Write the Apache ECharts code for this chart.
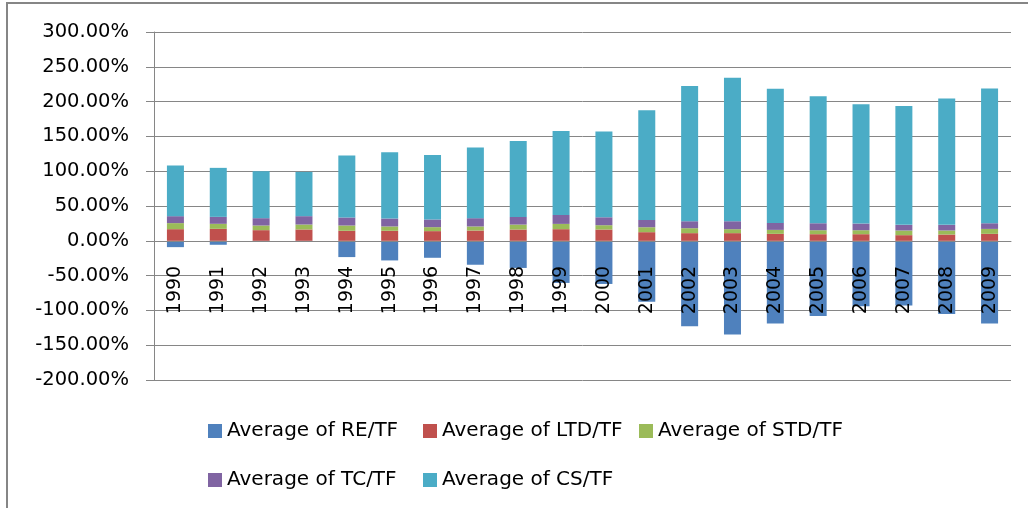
<!DOCTYPE html>
<html lang="en">
  <head>
    <meta charset="utf-8" />
    <title>Capital structure ratios</title>
    <script src="https://cdn.jsdelivr.net/npm/echarts@6/dist/echarts.min.js"></script>
    <style>
      html,
      body {
        margin: 0;
        padding: 0;
        background: #fff;
      }
      #chart1 {
        width: 1028px;
        height: 508px;
      }
    </style>
  </head>
  <body>
    <div id="chart1"></div>
    <script type="text/javascript">
      // years on the x axis
      var years = [
        "1990", "1991", "1992", "1993", "1994", "1995", "1996", "1997", "1998", "1999",
        "2000", "2001", "2002", "2003", "2004", "2005", "2006", "2007", "2008", "2009",
      ];
      // segment values, in percent
      var reTF = [-9.1, -5.7, -0.3, -0.2, -23.4, -28.2, -24.4, -34.4, -39, -60.5,
        -62, -87.6, -122.9, -134.8, -119, -108, -94, -93, -105, -119];
      var ltdTF = [16.7, 17.2, 15.3, 16.3, 14.4, 14.4, 13.9, 14.8, 16.2, 16.7,
        16.2, 12.4, 11, 11, 10, 9.5, 9.5, 8.1, 9, 10];
      var stdTF = [8.7, 7.2, 6.7, 7.1, 7.6, 6.2, 5.7, 5.8, 7.1, 7.6,
        6.2, 7.1, 7.1, 5.7, 5.7, 5.7, 5.7, 6.7, 5.8, 7.1];
      var tcTF = [10, 10, 10.5, 12, 11.5, 11.4, 11, 11.9, 11, 12.8,
        11.4, 10.5, 10, 11.4, 10, 10, 9.6, 8.1, 8.1, 8.1];
      var csTF = [72.7, 70.4, 67.5, 63.6, 89, 95.3, 92.8, 101.5, 109, 120.5,
        123.3, 157.6, 194.3, 206.2, 192.9, 182.4, 171.4, 170.9, 181.4, 193.8];
      var yTicks = { min: -200, max: 300, step: 50 };

      var names = [
        "Average of RE/TF",
        "Average of LTD/TF",
        "Average of STD/TF",
        "Average of TC/TF",
        "Average of CS/TF",
      ];
      var colors = ["#4F81BD", "#C0504D", "#9BBB59", "#8064A2", "#4BACC6"];
      var values = [reTF, ltdTF, stdTF, tcTF, csTF];

      var axisGray = "#868686";
      var font = "DejaVu Sans";

      // grid box
      var gridTop = 32;
      var gridBottom = 128;
      var gridHeight = 508 - gridTop - gridBottom;
      // move the category axis up to the 0% line
      var zeroOffset = -gridHeight * (0 - yTicks.min) / (yTicks.max - yTicks.min);

      var series = [];
      for (let i = 0; i < names.length; ++i) {
        series.push({
          name: names[i],
          type: "bar",
          stack: "total",
          barWidth: 17,
          data: values[i],
          itemStyle: { color: colors[i] },
        });
      }

      // legend: three columns of equal width, two rows
      var legendSpots = [
        [208, 421],
        [423, 421],
        [639, 421],
        [208, 470],
        [423, 470],
      ];
      var legends = [];
      for (let i = 0; i < names.length; ++i) {
        legends.push({
          data: [names[i]],
          left: legendSpots[i][0],
          top: legendSpots[i][1],
          padding: 0,
          itemWidth: 14,
          itemHeight: 14,
          icon: "rect",
          textStyle: { fontFamily: font, fontSize: 20, color: "#000" },
        });
      }

      var myChart = echarts.init(document.getElementById("chart1"));
      myChart.setOption({
        animation: false,
        color: colors,
        grid: { left: 154, right: 17, top: gridTop, bottom: gridBottom },
        graphic: [
          {
            type: "rect",
            shape: { x: 7, y: 3, width: 1100, height: 600 },
            style: { fill: "none", stroke: axisGray, lineWidth: 2 },
            silent: true,
          },
        ],
        legend: legends,
        xAxis: {
          type: "category",
          data: years,
          offset: zeroOffset,
          z: 10, // year labels sit on top of the bars
          axisLine: { onZero: false, lineStyle: { color: axisGray, width: 1 } },
          axisTick: { length: 8, lineStyle: { color: axisGray } },
          axisLabel: {
            interval: 0,
            rotate: 90,
            margin: 25,
            fontFamily: font,
            fontSize: 19,
            color: "#000",
          },
        },
        yAxis: {
          type: "value",
          min: yTicks.min,
          max: yTicks.max,
          interval: yTicks.step,
          axisLine: { show: true, lineStyle: { color: axisGray } },
          axisTick: { show: true, length: 8, lineStyle: { color: axisGray } },
          splitLine: { lineStyle: { color: axisGray, width: 1 } },
          axisLabel: {
            margin: 25,
            fontFamily: font,
            fontSize: 19.5,
            color: "#000",
            formatter: function (v) {
              return v.toFixed(2) + "%";
            },
          },
        },
        series: series,
      });
    </script>
  </body>
</html>
